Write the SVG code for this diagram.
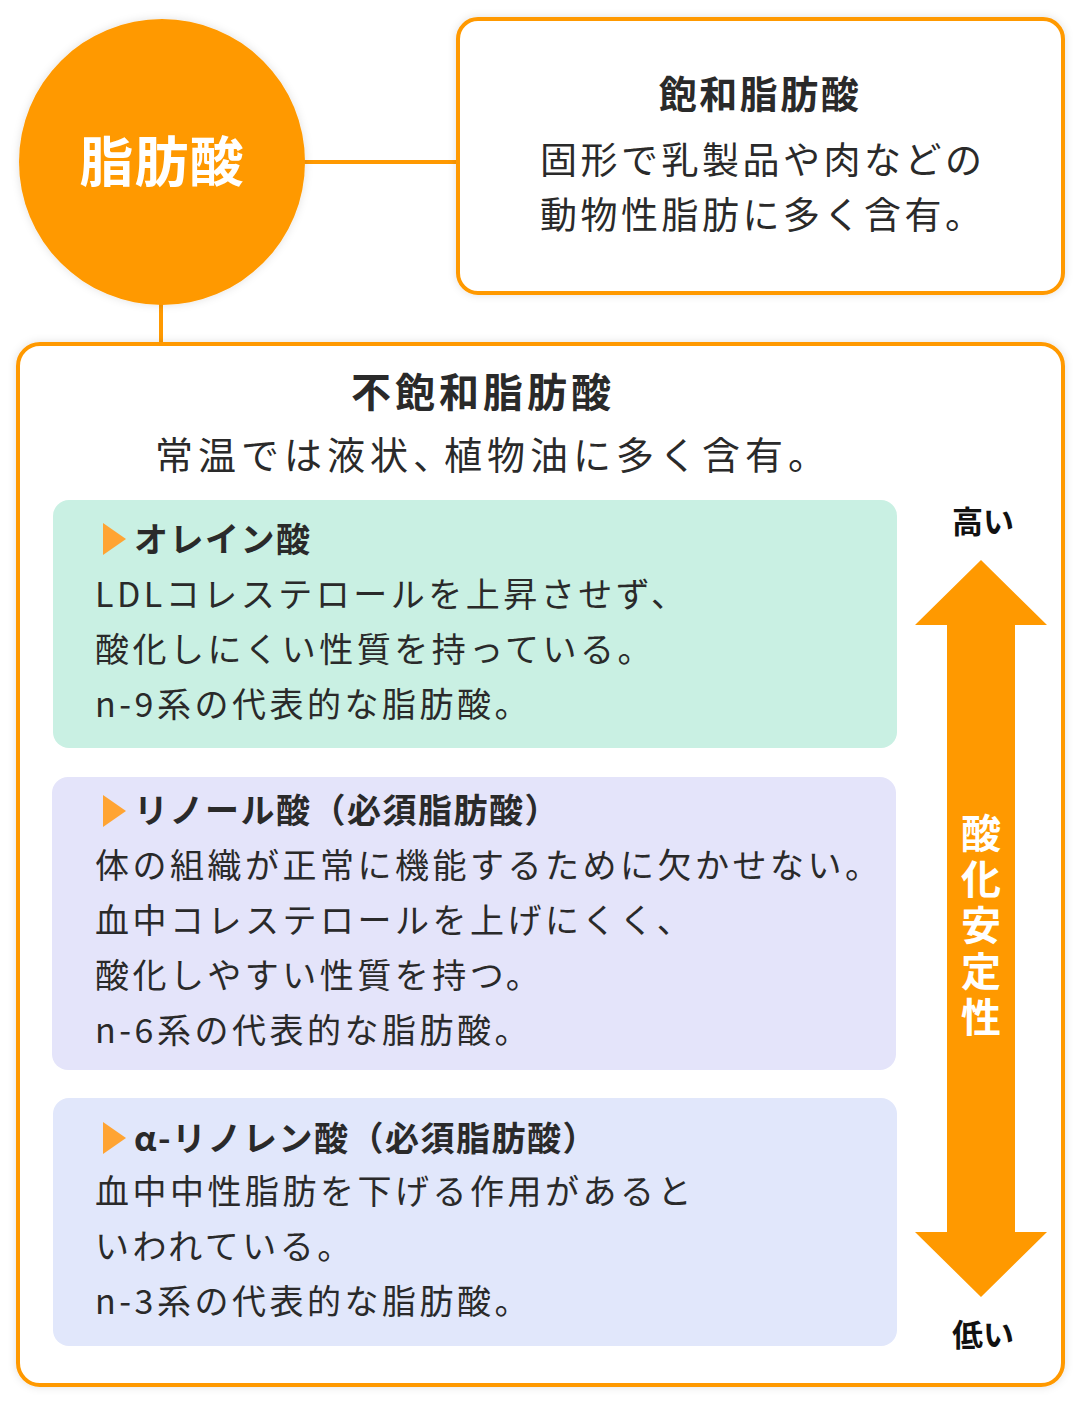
<svg xmlns="http://www.w3.org/2000/svg" width="1082" height="1402" viewBox="0 0 1082 1402">
<style>
text{font-family:"Noto Sans CJK JP","Noto Sans",sans-serif;fill:#2a2a2a}
.b{font-weight:700}
.body{font-size:34px;letter-spacing:3.5px}
.ttl{font-size:34px;font-weight:700;letter-spacing:1.5px}
.line{stroke:#FF9900;stroke-width:4;fill:none}
.frame{fill:#fff;stroke:#FF9900;stroke-width:4}
.tri{fill:#FFA433}
</style>
<defs>
<filter id="sh" x="-10%" y="-10%" width="120%" height="120%">
<feDropShadow dx="0" dy="0" stdDeviation="4" flood-color="#000" flood-opacity="0.12"/>
</filter>
</defs>
<rect width="1082" height="1402" fill="#fff"/>
<g id="connectors">
<line class="line" x1="300" y1="162" x2="460" y2="162"/>
<line class="line" x1="161" y1="300" x2="161" y2="345"/>
</g>
<g id="node-fatty-acid">
<circle cx="162" cy="162" r="143" fill="#FF9900" filter="url(#sh)"/>
<text x="162" y="182" text-anchor="middle" font-size="54" class="b" style="fill:#fff;letter-spacing:1px">脂肪酸</text>
</g>
<g id="node-saturated">
<rect class="frame" x="458" y="19" width="605" height="274" rx="20" filter="url(#sh)"/>
<text x="760" y="108" text-anchor="middle" font-size="38" class="b" style="letter-spacing:2.5px">飽和脂肪酸</text>
<text x="540" y="174" font-size="37" style="letter-spacing:3.5px">固形で乳製品や肉などの</text>
<text x="540" y="229" font-size="37" style="letter-spacing:3.5px">動物性脂肪に多く含有。</text>
</g>
<g id="node-unsaturated">
<rect class="frame" x="18" y="344" width="1045" height="1041" rx="22" filter="url(#sh)"/>
<text x="483" y="407" text-anchor="middle" font-size="40" class="b" style="letter-spacing:4px">不飽和脂肪酸</text>
<text x="155" y="469" font-size="38" style="letter-spacing:5px">常温では液状、<tspan dx="-12">植物油に多く含有。</tspan></text>
</g>
<g id="node-oleic">
<rect x="53" y="500" width="844" height="248" rx="16" fill="#C9F0E3"/>
<polygon class="tri" points="103,523 126,539 103,555"/>
<text x="134" y="552" class="ttl">オレイン酸</text>
<text x="95" y="607" class="body">LDLコレステロールを上昇させず、</text>
<text x="95" y="662" class="body">酸化しにくい性質を持っている。</text>
<text x="95" y="717" class="body">n-9系の代表的な脂肪酸。</text>
</g>
<g id="node-linoleic">
<rect x="52" y="777" width="844" height="293" rx="16" fill="#E4E4FA"/>
<polygon class="tri" points="103,795 126,811 103,827"/>
<text x="134" y="823" class="ttl">リノール酸（必須脂肪酸）</text>
<text x="95" y="878" class="body">体の組織が正常に機能するために欠かせない。</text>
<text x="95" y="933" class="body">血中コレステロールを上げにくく、</text>
<text x="95" y="988" class="body">酸化しやすい性質を持つ。</text>
<text x="95" y="1043" class="body">n-6系の代表的な脂肪酸。</text>
</g>
<g id="node-alpha-linolenic">
<rect x="53" y="1098" width="844" height="248" rx="16" fill="#E1E7FB"/>
<polygon class="tri" points="103,1122 126,1138 103,1154"/>
<text x="134" y="1151" class="ttl">α-リノレン酸（必須脂肪酸）</text>
<text x="95" y="1204" class="body">血中中性脂肪を下げる作用があると</text>
<text x="95" y="1259" class="body">いわれている。</text>
<text x="95" y="1314" class="body">n-3系の代表的な脂肪酸。</text>
</g>
<g id="scale-arrow">
<text x="983" y="533" text-anchor="middle" font-size="31" class="b" style="fill:#111">高い</text>
<polygon fill="#FF9900" points="981,560 1047,625 1015,625 1015,1232 1047,1232 981,1297 915,1232 947,1232 947,625 915,625"/>
<text x="981" y="813" font-size="40" class="b" style="fill:#fff;writing-mode:vertical-rl;letter-spacing:6px">酸化安定性</text>
<text x="983" y="1346" text-anchor="middle" font-size="31" class="b" style="fill:#111">低い</text>
</g>
</svg>
